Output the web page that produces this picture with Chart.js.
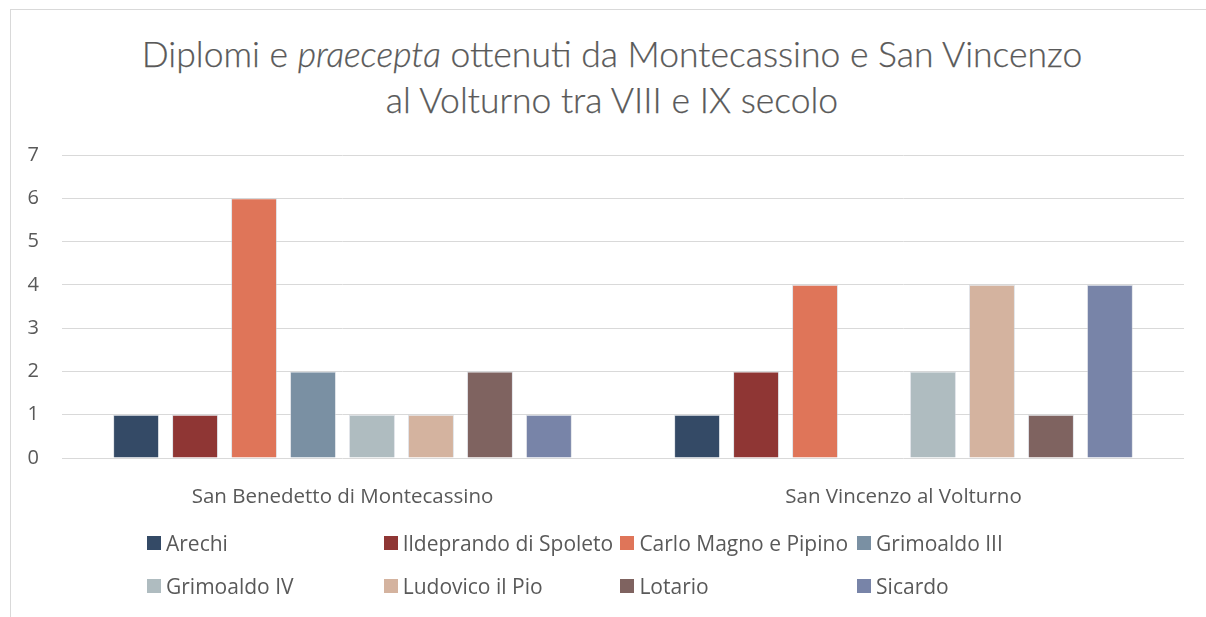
<!DOCTYPE html>
<html>
<head>
<meta charset="utf-8">
<script src="https://cdn.jsdelivr.net/npm/chart.js@4.4.0/dist/chart.umd.min.js"></script>
<style>
  html, body { margin: 0; padding: 0; background: #ffffff; }
  #wrap { position: relative; width: 1206px; height: 617px; overflow: hidden; background: #fff; }
  #frame { position: absolute; left: 10px; top: 9px; width: 1200px; height: 620px;
           border-left: 1px solid #d9d9d9; border-top: 1px solid #d9d9d9; }
  #title { position: absolute; left: 0; top: 31px; width: 1224px; text-align: center;
           font-family: Lato, "Open Sans", sans-serif; font-weight: 300; font-size: 35.5px;
           line-height: 46px; color: #595959; -webkit-text-stroke: 0.25px #595959; }
  #legend { position: absolute; left: 147px; top: 529px; width: 960px;
            font-family: "Open Sans", sans-serif; font-size: 21px; color: #595959; }
  .item { position: absolute; white-space: nowrap; display: flex; align-items: center; }
  .sw { width: 14px; height: 14px; margin-right: 5px; display: inline-block; }
  canvas { position: absolute; left: 0; top: 0; }
</style>
</head>
<body>
<div id="wrap">
  <div id="frame"></div>
  <div id="title">Diplomi e <em>praecepta</em> ottenuti da Montecassino e San Vincenzo<br>al Volturno tra VIII e IX secolo</div>
  <canvas id="c" width="1206" height="617"></canvas>
  <div id="legend"></div>
</div>
<script>
const categories = ["San Benedetto di Montecassino", "San Vincenzo al Volturno"];
const seriesNames = ["Arechi", "Ildeprando di Spoleto", "Carlo Magno e Pipino", "Grimoaldo III",
                     "Grimoaldo IV", "Ludovico il Pio", "Lotario", "Sicardo"];
const arechi      = [1, 1];
const ildeprando  = [1, 2];
const carloMagno  = [6, 4];
const grimoaldo3  = [2, null];
const grimoaldo4  = [1, 2];
const ludovico    = [1, 4];
const lotario     = [2, 1];
const sicardo     = [1, 4];
const seriesValues = [arechi, ildeprando, carloMagno, grimoaldo3, grimoaldo4, ludovico, lotario, sicardo];
const colors = ["#344a66", "#8f3634", "#df7559", "#7a90a3", "#afbcc0", "#d4b39f", "#7f6360", "#7884a8"];
const yTicks = [0, 1, 2, 3, 4, 5, 6, 7];

const datasets = seriesNames.map((n, i) => ({
  label: n,
  data: seriesValues[i],
  backgroundColor: colors[i],
  borderColor: "rgba(200,205,215,0.55)",
  borderWidth: 1,
  categoryPercentage: 0.841,
  barPercentage: 0.78
}));

new Chart(document.getElementById("c"), {
  type: "bar",
  data: { labels: categories, datasets },
  options: {
    responsive: false,
    animation: false,
    layout: { padding: { left: 20, right: 22, top: 155, bottom: 100 } },
    plugins: { legend: { display: false }, title: { display: false }, tooltip: { enabled: false } },
    scales: {
      x: {
        grid: { display: false },
        border: { display: false },
        ticks: { color: "#595959", font: { family: "Open Sans", size: 20.5 }, padding: 19 },
        afterFit: s => { s.height = 59; }
      },
      y: {
        min: 0, max: 7,
        afterBuildTicks: s => { s.ticks = yTicks.map(v => ({ value: v })); },
        grid: { color: "#d9d9d9", lineWidth: 1, drawTicks: false },
        border: { display: false },
        ticks: { color: "#595959", font: { family: "Open Sans", size: 20 }, padding: 23 },
        afterFit: s => { s.width = 42; }
      }
    }
  }
});

const leg = document.getElementById("legend");
seriesNames.forEach((n, i) => {
  const d = document.createElement("div");
  d.className = "item";
  d.style.left = (i % 4) * 236.7 + "px";
  d.style.top = Math.floor(i / 4) * 43 + "px";
  d.innerHTML = '<span class="sw" style="background:' + colors[i] + '"></span>' + n;
  leg.appendChild(d);
});
</script>
</body>
</html>
